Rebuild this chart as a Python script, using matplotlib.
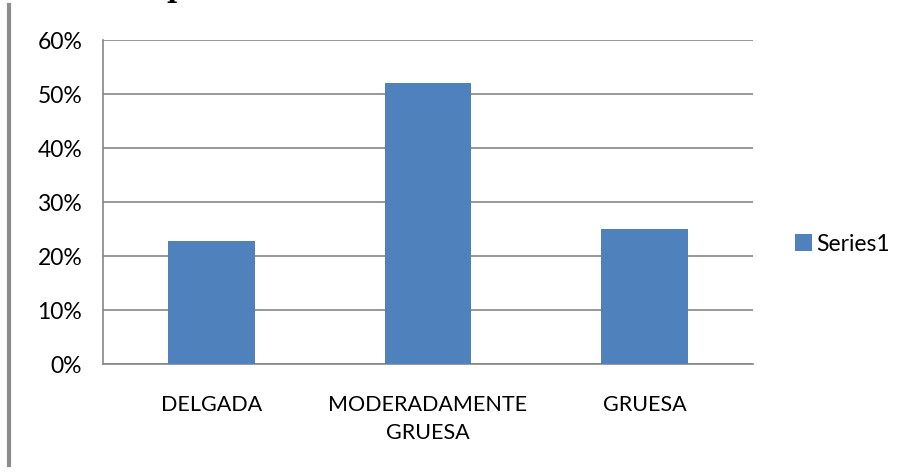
import matplotlib.pyplot as plt
from matplotlib.lines import Line2D
from matplotlib.ticker import PercentFormatter

plt.rcParams['font.family'] = ['Lato', 'DejaVu Sans']

categories = ['DELGADA', 'MODERADAMENTE\nGRUESA', 'GRUESA']
values = [0.228, 0.52, 0.25]
yticks = [0, 0.1, 0.2, 0.3, 0.4, 0.5, 0.6]

fig = plt.figure(figsize=(9.01, 4.72), dpi=100)
ax = fig.add_axes([0.1143, 0.2288, 0.7214, 0.6864])

bars = ax.bar(range(len(categories)), values, width=0.4, color='#4F81BD',
              label='Series1', zorder=3)

ax.set_xlim(-0.5, 2.5)
ax.set_ylim(0, 0.6)
ax.set_yticks(yticks)
ax.yaxis.set_major_formatter(PercentFormatter(1.0, decimals=0))
ax.set_xticks(range(len(categories)))
ax.set_xticklabels(categories, fontsize=15.5, linespacing=1.5)
ax.tick_params(axis='x', length=0, pad=22)
ax.tick_params(axis='y', length=0, pad=15, labelsize=16.5)
ax.grid(axis='y', color='#868686', linewidth=1.2, zorder=0)

for side in ['top', 'right']:
    ax.spines[side].set_visible(False)
for side in ['left', 'bottom']:
    ax.spines[side].set_color('#868686')
    ax.spines[side].set_linewidth(1.2)

fig.legend(handles=[bars], labels=['Series1'], loc='center left',
           bbox_to_anchor=(0.860, 0.483), frameon=False, fontsize=16.5,
           handlelength=0.7, handleheight=0.7, handletextpad=0.2)

# gray border line at the left edge
fig.add_artist(Line2D([0.0105, 0.0105], [0.015, 0.99], color='#8c8c8c',
                      linewidth=3, transform=fig.transFigure))
# clipped title glyph at the top (only its descender shows)
fig.text(0.195, 1.006, 'p', fontsize=20, fontweight='bold',
         family='DejaVu Serif', ha='center', va='baseline')

fig.savefig('out.png', dpi=100)
